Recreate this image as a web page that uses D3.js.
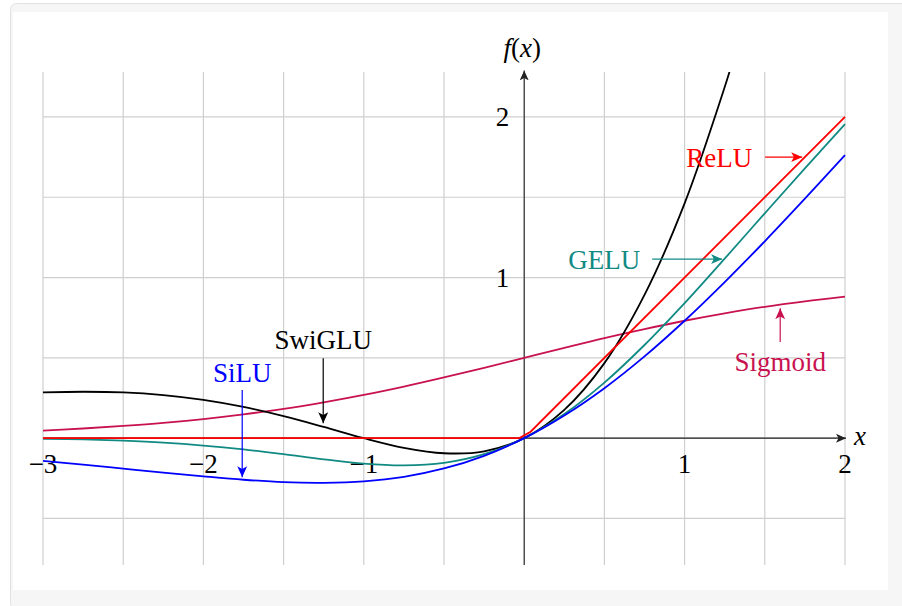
<!DOCTYPE html>
<html>
<head>
<meta charset="utf-8">
<script src="https://cdn.jsdelivr.net/npm/d3@7"></script>
<style>
  body { margin: 0; background: #fff; }
  text { font-family: "Liberation Serif", "DejaVu Serif", serif; }
</style>
</head>
<body>
<div id="chart"></div>
<script>
// DATA
let xs = [-3, -2.75, -2.5, -2.25, -2, -1.75, -1.5, -1.25, -1, -0.75, -0.5, -0.25,
          0, 0.25, 0.5, 0.75, 1, 1.25, 1.5, 1.75, 2]

let sigmoid_vals = [0.047, 0.060, 0.076, 0.095, 0.119, 0.148, 0.182, 0.223, 0.269, 0.321, 0.378, 0.438,
                    0.5, 0.562, 0.623, 0.679, 0.731, 0.777, 0.818, 0.852, 0.881]
let silu_vals = [-0.142, -0.165, -0.190, -0.215, -0.238, -0.259, -0.274, -0.278, -0.269, -0.241, -0.189, -0.110,
                 0, 0.141, 0.311, 0.509, 0.731, 0.972, 1.226, 1.491, 1.762]
let gelu_vals = [-0.004, -0.008, -0.016, -0.028, -0.046, -0.070, -0.100, -0.132, -0.159, -0.170, -0.154, -0.100,
                 0, 0.150, 0.346, 0.580, 0.841, 1.118, 1.400, 1.680, 1.955]
let swiglu_x = [-3, -2.75, -2.5, -2.25, -2, -1.75, -1.5, -1.25, -1, -0.75, -0.5, -0.25,
                0, 0.25, 0.5, 0.75, 1, 1.25, 1.3]
let swiglu_vals = [0.285, 0.289, 0.285, 0.268, 0.238, 0.194, 0.137, 0.070, 0, -0.060, -0.094, -0.082,
                   0, 0.176, 0.467, 0.892, 1.462, 2.186, 2.349]
let relu_x = [-3, -0.03, 0.04, 2]
let relu_vals = [0, 0, 0.04, 2]

let x_ticks = [-3, -2, -1, 1, 2]
let y_ticks = [1, 2]
let grid_x = d3.range(-3, 2.01, 0.5)
let grid_y = [-0.5, 0, 0.5, 1, 1.5, 2]

// annotations: label, colour, text centre, arrow from -> to (data coords)
let notes = [
  {name: "ReLU",    color: "#ff0000", tx: 1.216, ty: 1.75,  a: [1.502, 1.75, 1.733, 1.75]},
  {name: "GELU",    color: "#128a84", tx: 0.499, ty: 1.115, a: [0.798, 1.115, 1.234, 1.115]},
  {name: "Sigmoid", color: "#c8124f", tx: 1.596, ty: 0.48,  a: [1.596, 0.598, 1.596, 0.809]},
  {name: "SwiGLU",  color: "#000000", tx: -1.253, ty: 0.616, a: [-1.253, 0.498, -1.253, 0.093]},
  {name: "SiLU",    color: "#0000ff", tx: -1.758, ty: 0.411, a: [-1.758, 0.299, -1.758, -0.243]}
]

let series = [
  {name: "Sigmoid", color: "#c8124f", x: xs, y: sigmoid_vals, smooth: true},
  {name: "SwiGLU",  color: "#000000", x: swiglu_x, y: swiglu_vals, smooth: true},
  {name: "GELU",    color: "#128a84", x: xs, y: gelu_vals, smooth: true},
  {name: "SiLU",    color: "#0000ff", x: xs, y: silu_vals, smooth: true},
  {name: "ReLU",    color: "#ff0000", x: relu_x, y: relu_vals, smooth: false}
]

// CHART AREA
let W = 902, H = 606

let svg = d3.select("#chart").append("svg")
    .attr("width", W)
    .attr("height", H)

// frame
svg.append("rect")
    .attr("x", 10.5).attr("y", 3.5)
    .attr("width", W).attr("height", H)
    .attr("rx", 6)
    .attr("fill", "#f6f6f6")
    .attr("stroke", "#e2e2e2")
svg.append("rect")
    .attr("x", 13).attr("y", 12)
    .attr("width", 875).attr("height", 578)
    .attr("fill", "#fff")

// SCALES
let x = d3.scaleLinear().domain([-3, 2]).range([43, 845])
let y = d3.scaleLinear().domain([-0.79, 2.28]).range([565, 72])

let defs = svg.append("defs")
defs.append("clipPath").attr("id", "clip")
    .append("rect")
    .attr("x", x(-3) - 2).attr("y", y(2.28))
    .attr("width", x(2) - x(-3) + 4).attr("height", y(-0.79) - y(2.28))

function addMarker(id, color, size) {
  defs.append("marker")
      .attr("id", id)
      .attr("viewBox", "0 -5 10 10")
      .attr("refX", 10).attr("refY", 0)
      .attr("markerUnits", "userSpaceOnUse")
      .attr("markerWidth", size).attr("markerHeight", size)
      .attr("orient", "auto")
    .append("path")
      .attr("d", "M0,-4.5L10,0L0,4.5L2.5,0Z")
      .attr("fill", color)
}
notes.forEach((n, i) => addMarker("arr" + i, n.color, 11))
addMarker("axisArr", "#222", 10)

// GRID
let grid = svg.append("g").attr("class", "grid")
grid.selectAll(".gx").data(grid_x).enter().append("line")
    .attr("x1", d => x(d)).attr("x2", d => x(d))
    .attr("y1", y(2.28)).attr("y2", y(-0.79))
    .attr("stroke", "#cfcfcf").attr("stroke-width", 1.2)
grid.selectAll(".gy").data(grid_y).enter().append("line")
    .attr("x1", x(-3)).attr("x2", x(2))
    .attr("y1", d => y(d)).attr("y2", d => y(d))
    .attr("stroke", "#cfcfcf").attr("stroke-width", 1.2)

// AXES
svg.append("line")
    .attr("x1", x(-3)).attr("x2", x(2) + 1)
    .attr("y1", y(0)).attr("y2", y(0))
    .attr("stroke", "#222").attr("stroke-width", 1.1)
    .attr("marker-end", "url(#axisArr)")
svg.append("line")
    .attr("x1", x(0)).attr("x2", x(0))
    .attr("y1", y(-0.79)).attr("y2", y(2.29))
    .attr("stroke", "#222").attr("stroke-width", 1.1)
    .attr("marker-end", "url(#axisArr)")

let fmt = d => d < 0 ? "\u2212" + Math.abs(d) : String(d)

svg.selectAll(".xtick").data(x_ticks).enter().append("text")
    .attr("x", d => x(d)).attr("y", y(0) + 35)
    .attr("text-anchor", "middle")
    .attr("font-size", 27)
    .text(fmt)
svg.selectAll(".ytick").data(y_ticks).enter().append("text")
    .attr("x", x(0) - 15).attr("y", d => y(d) + 9)
    .attr("text-anchor", "end")
    .attr("font-size", 27)
    .text(fmt)

// axis titles: italic letters, upright parentheses
let fx = svg.append("text")
    .attr("x", x(0) - 2).attr("y", 57)
    .attr("text-anchor", "middle")
    .attr("font-size", 27)
fx.append("tspan").attr("font-style", "italic").text("f")
fx.append("tspan").text("(")
fx.append("tspan").attr("font-style", "italic").text("x")
fx.append("tspan").text(")")

svg.append("text")
    .attr("x", x(2) + 9).attr("y", y(0) + 7)
    .attr("font-size", 27)
    .attr("font-style", "italic")
    .text("x")

// CURVES
let smoothLine = d3.line()
    .x(d => x(d[0]))
    .y(d => y(d[1]))
    .curve(d3.curveCatmullRom)
let straightLine = d3.line()
    .x(d => x(d[0]))
    .y(d => y(d[1]))

svg.append("g").attr("clip-path", "url(#clip)")
  .selectAll(".curve").data(series).enter().append("path")
    .attr("class", "curve")
    .attr("d", s => (s.smooth ? smoothLine : straightLine)(s.x.map((v, i) => [v, s.y[i]])))
    .attr("fill", "none")
    .attr("stroke", s => s.color)
    .attr("stroke-width", 1.8)

// ANNOTATIONS
notes.forEach((n, i) => {
  svg.append("text")
      .attr("x", x(n.tx)).attr("y", y(n.ty))
      .attr("dy", "0.35em")
      .attr("text-anchor", "middle")
      .attr("font-size", 27)
      .attr("fill", n.color)
      .text(n.name)
  svg.append("line")
      .attr("x1", x(n.a[0])).attr("y1", y(n.a[1]))
      .attr("x2", x(n.a[2])).attr("y2", y(n.a[3]))
      .attr("stroke", n.color).attr("stroke-width", 1.2)
      .attr("marker-end", "url(#arr" + i + ")")
})
</script>
</body>
</html>
